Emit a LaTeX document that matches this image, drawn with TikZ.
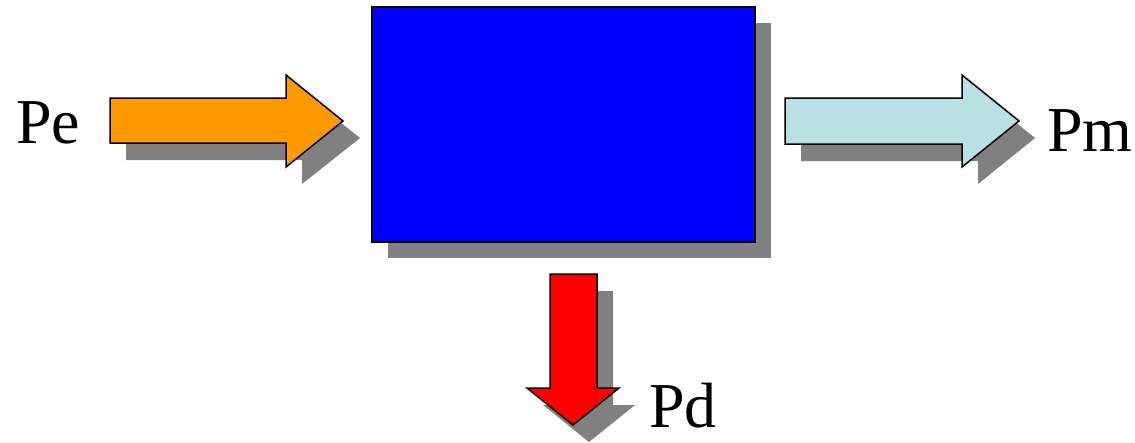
\documentclass[tikz,border=0pt]{standalone}
\usepackage{fontspec}
\setmainfont{Liberation Serif}
\definecolor{shadowgray}{RGB}{128,128,128}
\definecolor{arrorange}{RGB}{255,153,0}
\definecolor{arrcyan}{RGB}{185,224,227}
\definecolor{boxblue}{RGB}{0,0,255}
\definecolor{arrred}{RGB}{255,0,0}
\tikzset{
  shadowfill/.style={fill=shadowgray, draw=none},
  arrowbody/.style={draw=black, line width=1.5pt, line join=miter},
  lbl/.style={inner sep=0pt, font=\fontsize{64}{64}\selectfont}
}
\begin{document}
\begin{tikzpicture}[x=1pt,y=-1pt]
\useasboundingbox (0,0) rectangle (1135,442);
% shadows
\fill[shadowfill] (388,23) rectangle (771,258);
\fill[shadowfill] (126,114) -- (302,114) -- (302,92) -- (360,138) -- (302,184) -- (302,160) -- (126,160) -- cycle;
\fill[shadowfill] (801,115) -- (978,115) -- (978,92) -- (1035,138) -- (978,184) -- (978,161) -- (801,161) -- cycle;
\fill[shadowfill] (566,291) -- (613,291) -- (613,405) -- (635,405) -- (589,442) -- (543,405) -- (566,405) -- cycle;
% main box
\node[draw=black, line width=2pt, fill=boxblue, minimum width=383pt, minimum height=235pt, inner sep=0pt, anchor=north west] (box) at (371,6) {};
% input arrow
\filldraw[arrowbody, fill=arrorange] (110,98) -- (286,98) -- (286,75) -- (343,121) -- (286,167) -- (286,143) -- (110,143) -- cycle;
% output arrow
\filldraw[arrowbody, fill=arrcyan] (785,98) -- (962,98) -- (962,75) -- (1019,121) -- (962,167) -- (962,144) -- (785,144) -- cycle;
% loss arrow
\filldraw[arrowbody, fill=arrred] (550,274) -- (597,274) -- (597,388) -- (619,388) -- (573,425) -- (527,388) -- (550,388) -- cycle;
% labels
\node[lbl, anchor=base west] (pe) at (16,143) {Pe};
\node[lbl, anchor=base west] (pm) at (1047,151) {Pm};
\node[lbl, anchor=base west] (pd) at (649,427) {Pd};
\end{tikzpicture}
\end{document}
